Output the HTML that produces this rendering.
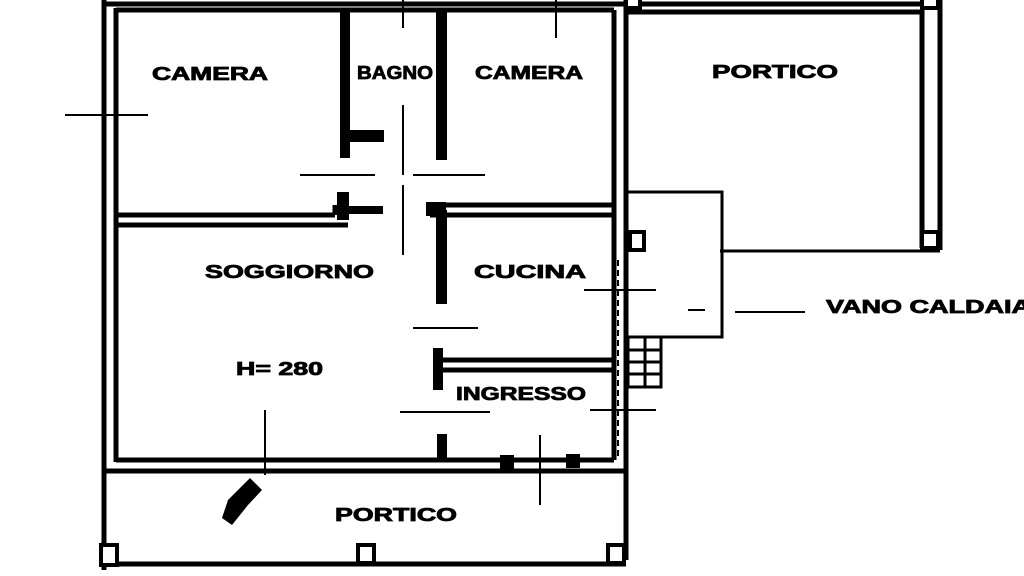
<!DOCTYPE html>
<html><head><meta charset="utf-8"><style>
html,body{margin:0;padding:0;background:#fff;}
svg{display:block}
text{font-family:"Liberation Sans",sans-serif;font-weight:bold;fill:#000;font-size:18px;stroke:#000;stroke-width:0.8}
</style></head><body>
<svg width="1024" height="576" viewBox="0 0 1024 576" xmlns="http://www.w3.org/2000/svg">
<g stroke="#000" fill="none" stroke-width="5">
<line x1="104" y1="0" x2="104" y2="570"/>
<line x1="116" y1="8" x2="116" y2="462"/>
<line x1="104" y1="4" x2="630" y2="4"/>
<line x1="116" y1="10" x2="614" y2="10"/>
<line x1="614" y1="10" x2="614" y2="460"/>
<line x1="626" y1="0" x2="626" y2="560"/>
<line x1="116" y1="460" x2="614" y2="460"/>
<line x1="104" y1="471" x2="626" y2="471"/>
<line x1="104" y1="564" x2="626" y2="564"/>
<line x1="116" y1="215" x2="335" y2="215"/>
<line x1="116" y1="225" x2="348" y2="225"/>
<line x1="335" y1="215" x2="335" y2="205"/>
<line x1="430" y1="205" x2="614" y2="205"/>
<line x1="430" y1="215" x2="614" y2="215"/>
<line x1="440" y1="360" x2="614" y2="360"/>
<line x1="440" y1="370" x2="614" y2="370"/>
<line x1="626" y1="4" x2="940" y2="4"/>
<line x1="626" y1="12" x2="922" y2="12"/>
<line x1="922" y1="10" x2="922" y2="248"/>
<line x1="940" y1="0" x2="940" y2="250"/>
<line x1="720" y1="251" x2="940" y2="251" stroke-width="3"/>
<polyline points="626,192 722,192 722,337 626,337" stroke-width="3"/>
<rect x="628" y="337" width="33" height="50" stroke-width="3"/>
<line x1="628" y1="350" x2="661" y2="350" stroke-width="3"/>
<line x1="628" y1="362" x2="661" y2="362" stroke-width="3"/>
<line x1="628" y1="374" x2="661" y2="374" stroke-width="3"/>
<line x1="645" y1="337" x2="645" y2="387" stroke-width="3"/>
</g>
<g fill="#000">
<rect x="340" y="8" width="10" height="150"/>
<rect x="340" y="130" width="44" height="12"/>
<rect x="436" y="8" width="11" height="152"/>
<rect x="337" y="192" width="12" height="28"/>
<rect x="345" y="206" width="38" height="8"/>
<rect x="426" y="202" width="20" height="14"/>
<rect x="436" y="210" width="11" height="94"/>
<rect x="433" y="348" width="10" height="42"/>
<rect x="437" y="434" width="10" height="28"/>
<rect x="500" y="455" width="14" height="14"/>
<rect x="566" y="454" width="14" height="14"/>
</g>
<g stroke="#000" stroke-width="2" fill="none">
<line x1="403" y1="0" x2="403" y2="28"/>
<line x1="556" y1="0" x2="556" y2="38"/>
<line x1="403" y1="105" x2="403" y2="175"/>
<line x1="403" y1="185" x2="403" y2="255"/>
<line x1="300" y1="175" x2="375" y2="175"/>
<line x1="413" y1="175" x2="485" y2="175"/>
<line x1="65" y1="115" x2="148" y2="115"/>
<line x1="413" y1="328" x2="478" y2="328"/>
<line x1="400" y1="412" x2="490" y2="412"/>
<line x1="265" y1="410" x2="265" y2="475"/>
<line x1="540" y1="435" x2="540" y2="505"/>
<line x1="584" y1="290" x2="656" y2="290"/>
<line x1="590" y1="410" x2="656" y2="410"/>
<line x1="735" y1="312" x2="805" y2="312"/>
<line x1="688" y1="310" x2="705" y2="310"/>
<line x1="618" y1="260" x2="618" y2="460" stroke-dasharray="6,4"/>
</g>
<g stroke="#000" stroke-width="4" fill="#fff">
<rect x="101" y="545" width="16" height="20"/>
<rect x="358" y="545" width="16" height="18"/>
<rect x="608" y="545" width="16" height="18"/>
<rect x="630" y="232" width="14" height="18"/>
<rect x="922" y="232" width="16" height="16"/>
<rect x="626" y="-4" width="14" height="12"/>
<rect x="922" y="-4" width="16" height="12"/>
</g>
<path d="M228,500 L250,478 L262,490 L248,505 L232,525 L222,518 Z" fill="#000"/>
<text x="152" y="80" textLength="116" lengthAdjust="spacingAndGlyphs">CAMERA</text>
<text x="357" y="79" textLength="76" lengthAdjust="spacingAndGlyphs">BAGNO</text>
<text x="475" y="79" textLength="108" lengthAdjust="spacingAndGlyphs">CAMERA</text>
<text x="712" y="78" textLength="126" lengthAdjust="spacingAndGlyphs">PORTICO</text>
<text x="205" y="278" textLength="169" lengthAdjust="spacingAndGlyphs">SOGGIORNO</text>
<text x="474" y="278" textLength="112" lengthAdjust="spacingAndGlyphs">CUCINA</text>
<text x="236" y="375" font-size="22" textLength="87" lengthAdjust="spacingAndGlyphs">H= 280</text>
<text x="456" y="400" font-size="16" textLength="130" lengthAdjust="spacingAndGlyphs">INGRESSO</text>
<text x="335" y="521" textLength="122" lengthAdjust="spacingAndGlyphs">PORTICO</text>
<text x="826" y="313" font-size="16" textLength="205" lengthAdjust="spacingAndGlyphs">VANO CALDAIA</text>
</svg>
</body></html>
